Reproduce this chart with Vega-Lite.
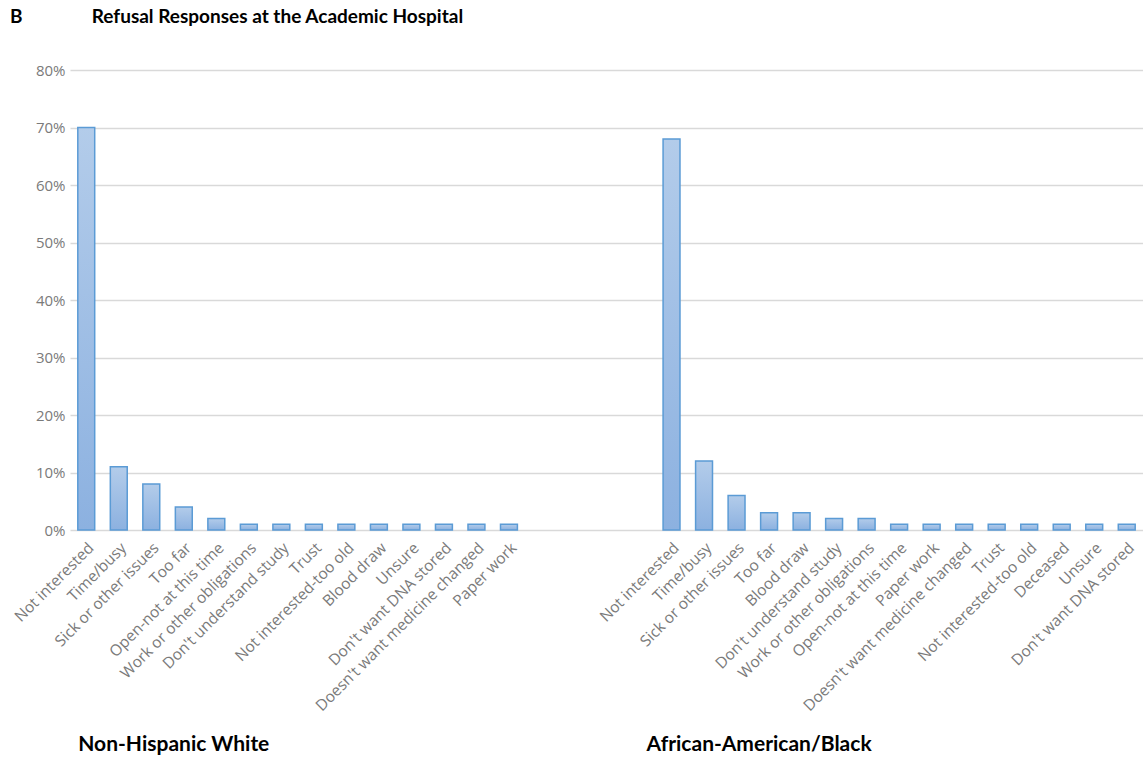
{
  "$schema": "https://vega.github.io/schema/vega-lite/v6.json",
  "autosize": "none",
  "width": 1073,
  "height": 460,
  "padding": {"left": 70, "top": 70, "right": 0, "bottom": 241},
  "background": "white",
  "title": {
    "text": "B\u00a0\u00a0\u00a0\u00a0\u00a0\u00a0\u00a0\u00a0\u00a0\u00a0\u00a0\u00a0\u00a0\u00a0\u00a0Refusal Responses at the Academic Hospital",
    "anchor": "start",
    "frame": "group",
    "dx": -60,
    "offset": 36,
    "font": "Lato",
    "fontSize": 19,
    "fontWeight": "bold",
    "color": "#000000"
  },
  "datasets": {
    "bars": [
      {"key": "W|Not interested", "pct": 0.70},
      {"key": "W|Time/busy", "pct": 0.11},
      {"key": "W|Sick or other issues", "pct": 0.08},
      {"key": "W|Too far", "pct": 0.04},
      {"key": "W|Open-not at this time", "pct": 0.02},
      {"key": "W|Work or other obligations", "pct": 0.01},
      {"key": "W|Don't understand study", "pct": 0.01},
      {"key": "W|Trust", "pct": 0.01},
      {"key": "W|Not interested-too old", "pct": 0.01},
      {"key": "W|Blood draw", "pct": 0.01},
      {"key": "W|Unsure", "pct": 0.01},
      {"key": "W|Don't want DNA stored", "pct": 0.01},
      {"key": "W|Doesn't want medicine changed", "pct": 0.01},
      {"key": "W|Paper work", "pct": 0.01},
      {"key": "B|Not interested", "pct": 0.68},
      {"key": "B|Time/busy", "pct": 0.12},
      {"key": "B|Sick or other issues", "pct": 0.06},
      {"key": "B|Too far", "pct": 0.03},
      {"key": "B|Blood draw", "pct": 0.03},
      {"key": "B|Don't understand study", "pct": 0.02},
      {"key": "B|Work or other obligations", "pct": 0.02},
      {"key": "B|Open-not at this time", "pct": 0.01},
      {"key": "B|Paper work", "pct": 0.01},
      {"key": "B|Doesn't want medicine changed", "pct": 0.01},
      {"key": "B|Trust", "pct": 0.01},
      {"key": "B|Not interested-too old", "pct": 0.01},
      {"key": "B|Deceased", "pct": 0.01},
      {"key": "B|Unsure", "pct": 0.01},
      {"key": "B|Don't want DNA stored", "pct": 0.01}
    ],
    "groups": [
      {"key": "W|Too far", "group": "Non-Hispanic White"},
      {"key": "B|Too far", "group": "African-American/Black"}
    ]
  },
  "encoding": {
    "x": {
      "field": "key",
      "type": "nominal",
      "scale": {
        "domain": [
          "W|Not interested", "W|Time/busy", "W|Sick or other issues", "W|Too far", "W|Open-not at this time",
          "W|Work or other obligations", "W|Don't understand study", "W|Trust", "W|Not interested-too old",
          "W|Blood draw", "W|Unsure", "W|Don't want DNA stored", "W|Doesn't want medicine changed", "W|Paper work",
          "gap1", "gap2", "gap3", "gap4",
          "B|Not interested", "B|Time/busy", "B|Sick or other issues", "B|Too far", "B|Blood draw",
          "B|Don't understand study", "B|Work or other obligations", "B|Open-not at this time", "B|Paper work",
          "B|Doesn't want medicine changed", "B|Trust", "B|Not interested-too old", "B|Deceased", "B|Unsure",
          "B|Don't want DNA stored"
        ],
        "paddingInner": 0.48,
        "paddingOuter": 0.24
      },
      "axis": {
        "title": null,
        "labelExpr": "indexof(datum.value, '|') >= 0 ? split(datum.value, '|')[1] : ''",
        "labelAngle": -45,
        "labelFont": "Open Sans",
        "labelFontSize": 15.5,
        "labelColor": "#7a7a7a",
        "labelPadding": 10,
        "labelLimit": 400,
        "labelOverlap": false,
        "domain": false,
        "ticks": false,
        "grid": false
      }
    }
  },
  "layer": [
    {
      "data": {"name": "bars"},
      "mark": {
        "type": "bar",
        "stroke": "#5b9bd5",
        "strokeWidth": 1.5,
        "color": {
          "gradient": "linear",
          "x1": 0, "y1": 0, "x2": 0, "y2": 1,
          "stops": [
            {"offset": 0, "color": "#b3ccea"},
            {"offset": 1, "color": "#8cb1e0"}
          ]
        }
      },
      "encoding": {
        "y": {
          "field": "pct",
          "type": "quantitative",
          "scale": {"domain": [0, 0.8], "nice": false},
          "axis": {
            "title": null,
            "format": ".0%",
            "values": [0, 0.1, 0.2, 0.3, 0.4, 0.5, 0.6, 0.7, 0.8],
            "labelFont": "Open Sans",
            "labelFontSize": 15,
            "labelColor": "#7a7a7a",
            "labelPadding": 5,
            "domain": false,
            "ticks": false,
            "grid": true,
            "gridColor": "#d9d9d9",
            "gridWidth": 1.5
          }
        }
      }
    },
    {
      "data": {"name": "groups"},
      "mark": {
        "type": "text",
        "font": "Lato",
        "fontSize": 21,
        "fontWeight": "bold",
        "color": "#000000",
        "align": "center",
        "baseline": "alphabetic",
        "dx": -10
      },
      "encoding": {
        "y": {"datum": -0.385, "type": "quantitative", "scale": {"domain": [0, 0.8], "nice": false}},
        "text": {"field": "group"}
      }
    }
  ],
  "config": {"view": {"stroke": null}}
}
